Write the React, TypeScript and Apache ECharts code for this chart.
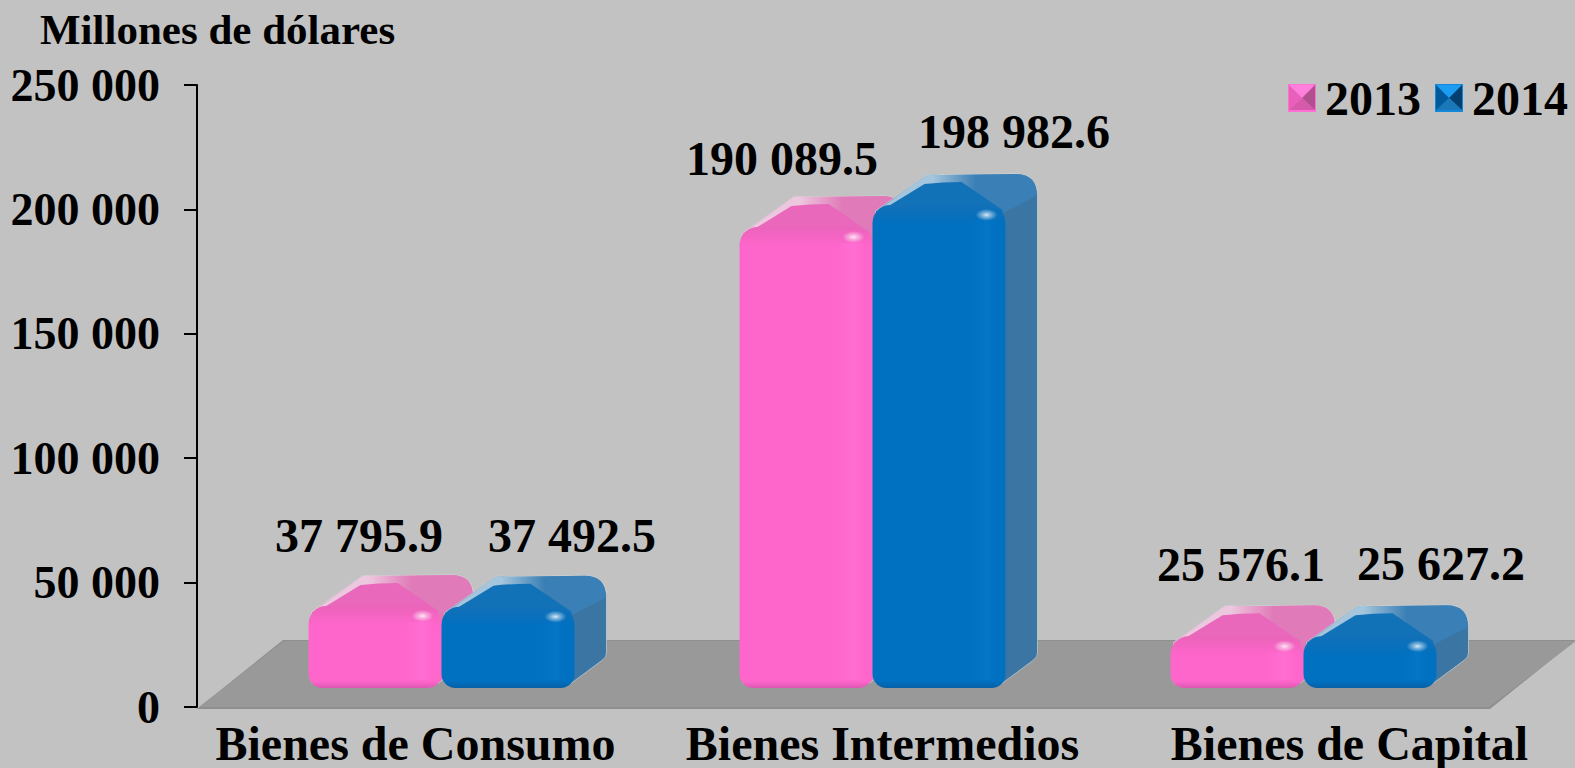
import React, { useEffect, useRef } from "react";
import * as echarts from "echarts";

const categories = ["Bienes de Consumo", "Bienes Intermedios", "Bienes de Capital"];
const values2013 = [37795.9, 190089.5, 25576.1];
const values2014 = [37492.5, 198982.6, 25627.2];
const labels2013 = ["37 795.9", "190 089.5", "25 576.1"];
const labels2014 = ["37 492.5", "198 982.6", "25 627.2"];
const yTicks = [0, 50000, 100000, 150000, 200000, 250000];
const labelShift2013 = [[-16, -70], [-24, -69], [4, -72]];
const labelShift2014 = [[64, -71], [75, -73], [71, -73]];

const FONT = '"Liberation Serif", "Times New Roman", serif';

const palette2013 = {
  front: "#ff66cc", rimTop: "#ea64ba", rimBot: "#dd58b2", glow: "#ff6ed2",
  side: "#dd7ab6", wingL: "#ecc8de", wingR: "#e07ab8", facet: "#e968bc",
};
const palette2014 = {
  front: "#0070c0", rimTop: "#1270b8", rimBot: "#0860a6", glow: "#0476c6",
  side: "#3a75a3", wingL: "#a4c5dc", wingR: "#3a7fb5", facet: "#1272b8",
};

function pyramid(top: string, right: string, bottom: string, left: string, rim: string) {
  const svg = `<svg xmlns="http://www.w3.org/2000/svg" width="28" height="28"><rect width="28" height="28" fill="${rim}"/><polygon points="1,1 27,1 14,14" fill="${top}"/><polygon points="27,1 27,26 14,14" fill="${right}"/><polygon points="1,26 27,26 14,14" fill="${bottom}"/><polygon points="1,1 1,26 14,14" fill="${left}"/></svg>`;
  return "image://data:image/svg+xml;base64," + btoa(svg);
}

const icon2013 = pyramid("#ff7fdc", "#b0508f", "#d55aaa", "#e860ba", "#ff70d4");
const icon2014 = pyramid("#1c9cf0", "#04406f", "#1a78b8", "#005a9c", "#1488d8");

function renderBar(side: number, pal: typeof palette2013, labels: string[], shifts: number[][]) {
  return (params: any, api: any) => {
    const idx = api.value(0);
    const val = api.value(1);
    const band = api.size([1, 0])[0];
    const zero = api.coord([idx, 0]);
    const top = api.coord([idx, val]);
    const w = band * 0.3085;
    const cx = zero[0] + band * 0.0673;
    const x0 = side < 0 ? cx - w : cx;
    const x1 = x0 + w;
    const yB = zero[1] - 19;
    const yT = top[1] - 7;
    const dx = 32;
    const dy = 31;
    const yBack = yT - dy;
    const h = yB - yT;
    const r = 18;
    const LG = echarts.graphic.LinearGradient;
    const silhouette =
      `M${x0 + 3} ${yT + 6}L${x0 + 54} ${yBack + 1}Q${x0 + 60} ${yBack} ${x0 + 68} ${yBack + 1}` +
      `L${x1 + dx - 22} ${yBack}Q${x1 + dx} ${yBack} ${x1 + dx} ${yBack + 22}L${x1 + dx} ${yB - dy - 4}` +
      `Q${x1 + dx} ${yB - dy} ${x1 + dx - 4} ${yB - dy + 3}L${x1 - 3} ${yB - 5}L${x0 + 3} ${yB - 5}Z`;
    const topFace =
      `M${x0 + 4} ${yT + 6}L${x0 + 54} ${yBack + 1}Q${x0 + 60} ${yBack} ${x0 + 68} ${yBack + 1}` +
      `L${x1 + dx - 22} ${yBack}Q${x1 + dx} ${yBack} ${x1 + dx - 1} ${yBack + 22}L${x1 - 2} ${yT + 8}L${x0 + 10} ${yT + 8}Z`;
    const facet =
      `M${x0 + 3} ${yT + 9}L${x0 + 52} ${yT - 21}` +
      `Q${x0 + 70} ${yT - 23} ${x0 + 89} ${yT - 23}L${x1 - 3} ${yT + 5}L${x1 - 3} ${yT + 14}L${x0 + 3} ${yT + 14}Z`;
    const t = Math.min(0.45, 20 / h);
    const b = Math.min(0.45, 7 / h);
    return {
      type: "group",
      children: [
        { type: "path", shape: { pathData: silhouette }, style: { fill: pal.side, stroke: "rgba(225,235,240,0.5)", lineWidth: 1 } },
        { type: "path", shape: { pathData: topFace }, style: { fill: new LG(0, 0, 1, 0, [
          { offset: 0, color: pal.wingL }, { offset: 0.35, color: pal.wingL }, { offset: 0.62, color: pal.wingR }, { offset: 1, color: pal.wingR },
        ]) } },
        { type: "path", shape: { pathData: facet }, style: { fill: pal.facet } },
        { type: "rect", shape: { x: x0, y: yT, width: w, height: h, r: [r, r, 14, 14] }, style: {
          fill: new LG(0, 0, 0, 1, [
            { offset: 0, color: pal.rimTop }, { offset: t, color: pal.front },
            { offset: 1 - b, color: pal.front }, { offset: 1, color: pal.rimBot },
          ]),
        } },
        { type: "rect", shape: { x: x0 + w * 0.74, y: yT + 16, width: w * 0.2, height: Math.max(h - 24, 1) }, style: {
          fill: new LG(0, 0, 1, 0, [
            { offset: 0, color: pal.front }, { offset: 0.6, color: pal.glow }, { offset: 1, color: pal.front },
          ]),
        } },
        { type: "ellipse", shape: { cx: x1 - 19, cy: yT + 10, rx: 11, ry: 6 }, style: {
          fill: new echarts.graphic.RadialGradient(0.5, 0.5, 0.5, [
            { offset: 0, color: "rgba(255,255,255,0.85)" }, { offset: 0.35, color: "rgba(255,255,255,0.5)" }, { offset: 1, color: "rgba(255,255,255,0)" },
          ]),
        } },
        { type: "text", style: {
          x: (x0 + x1) / 2 + shifts[idx][0], y: yT + shifts[idx][1], text: labels[idx],
          font: `bold 48px ${FONT}`, fill: "#000", align: "center", verticalAlign: "middle",
        } },
      ],
    };
  };
}

function renderFloor(params: any, api: any) {
  const cs = params.coordSys;
  const yF = cs.y + cs.height;
  const xL = cs.x;
  const xR = cs.x + cs.width;
  const ddx = 86;
  const ddy = 67;
  return {
    type: "group",
    children: [
      { type: "polygon", shape: { points: [[xL, yF + 2], [xR, yF + 2], [xR + ddx, yF - ddy], [xL + ddx, yF - ddy]] }, style: { fill: "#8f8f8f" } },
      { type: "polygon", shape: { points: [[xL + 2, yF], [xR - 1, yF], [xR + ddx, yF - ddy + 1], [xL + ddx + 1, yF - ddy + 1]] }, style: { fill: "#999999" } },
    ],
  };
}

export default function App() {
  const ref = useRef<HTMLDivElement>(null);
  useEffect(() => {
    const chart = echarts.init(ref.current!, undefined, { renderer: "svg" });
    chart.setOption({
      animation: false,
      backgroundColor: "#c2c2c2",
      title: {
        text: "Millones de dólares", left: 35, top: 3,
        textStyle: { fontFamily: FONT, fontWeight: "bold", fontSize: 43, color: "#000" },
      },
      legend: {
        orient: "horizontal", left: 1288, top: 74, padding: 0, itemWidth: 28, itemHeight: 28, itemGap: 14,
        data: [{ name: "2013", icon: icon2013 }, { name: "2014", icon: icon2014 }],
        textStyle: { fontFamily: FONT, fontWeight: "bold", fontSize: 48, color: "#000", padding: [0, 0, 0, 4] },
        selectedMode: false,
      },
      grid: [
        { left: 197, top: 85, width: 1293, height: 622 },
        { left: 415.5, top: 85, width: 934, height: 622 },
      ],
      xAxis: [
        { type: "category", data: categories, gridIndex: 0, axisLine: { show: false }, axisTick: { show: false }, axisLabel: { show: false } },
        { type: "category", data: categories, gridIndex: 1, boundaryGap: false, axisLine: { show: false }, axisTick: { show: false },
          axisLabel: { show: true, interval: 0, margin: 12, hideOverlap: false, fontFamily: FONT, fontWeight: "bold", fontSize: 48, color: "#000" } },
      ],
      yAxis: [
        {
          type: "value", gridIndex: 0, min: yTicks[0], max: yTicks[yTicks.length - 1], interval: yTicks[1] - yTicks[0],
          splitLine: { show: false },
          axisLine: { show: true, lineStyle: { color: "#000", width: 2 } },
          axisTick: { show: true, length: 13, lineStyle: { color: "#000", width: 2 } },
          axisLabel: {
            margin: 37, fontFamily: FONT, fontWeight: "bold", fontSize: 46, color: "#000",
            formatter: (v: number) => String(v).replace(/\B(?=(\d{3})+$)/g, " "),
          },
        },
        { type: "value", gridIndex: 1, min: 0, max: 250000, show: false },
      ],
      series: [
        { type: "custom", name: "floor", xAxisIndex: 0, yAxisIndex: 0, z: 1, silent: true, renderItem: renderFloor, data: [[0, 0]] },
        { type: "custom", name: "2013", xAxisIndex: 0, yAxisIndex: 0, z: 2, silent: true, itemStyle: { color: palette2013.front },
          encode: { x: 0, y: 1 }, renderItem: renderBar(-1, palette2013, labels2013, labelShift2013),
          data: categories.map((_, i) => [i, values2013[i]]) },
        { type: "custom", name: "2014", xAxisIndex: 0, yAxisIndex: 0, z: 3, silent: true, itemStyle: { color: palette2014.front },
          encode: { x: 0, y: 1 }, renderItem: renderBar(1, palette2014, labels2014, labelShift2014),
          data: categories.map((_, i) => [i, values2014[i]]) },
      ],
    });
    return () => chart.dispose();
  }, []);
  return <div ref={ref} style={{ position: "fixed", left: 0, top: 0, width: 1575, height: 768, overflow: "hidden" }} />;
}
